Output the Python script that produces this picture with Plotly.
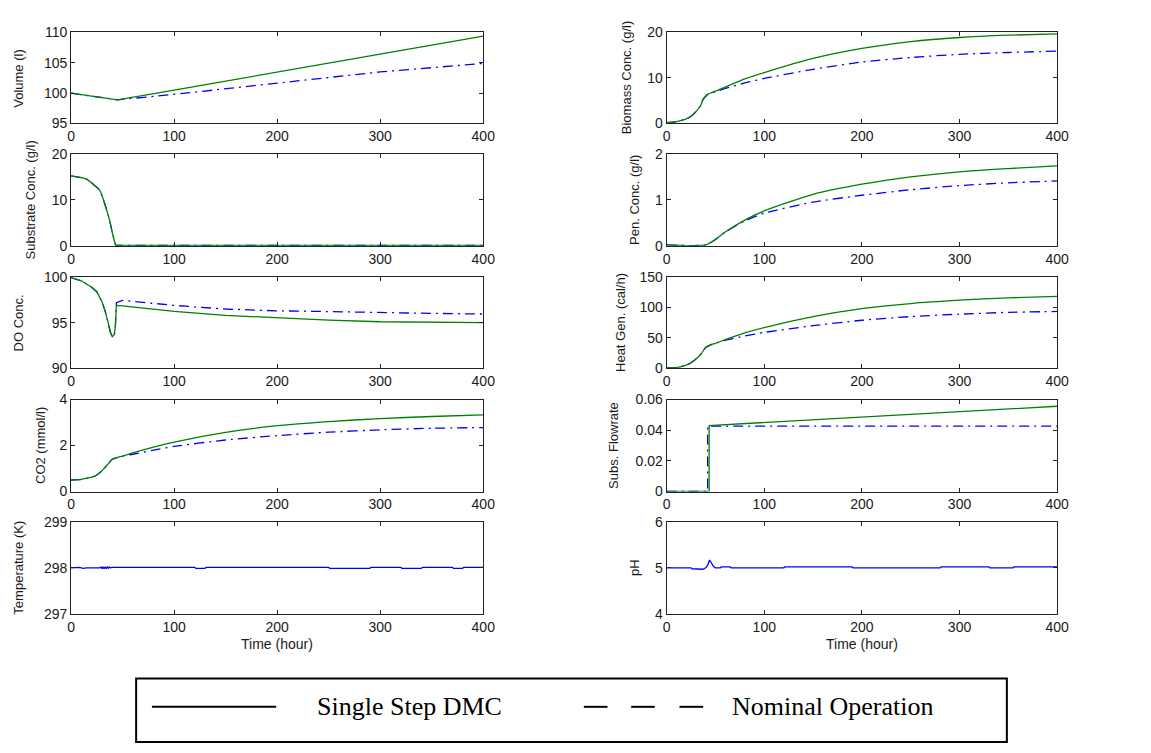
import plotly.graph_objects as go

W, H = 1151, 753

# ---- process readings (time in hours) ----
t_volume = [0, 45, 100, 200, 300, 400]
volume_dmc = [100.0, 98.9, 100.5, 103.5, 106.5, 109.4]
volume_nom = [100.0, 98.9, 99.8, 101.7, 103.5, 104.9]

t_bio = [0, 10, 20, 25, 30, 35, 37, 40, 42, 45, 50, 60, 80, 100, 150, 200, 250, 300, 350, 400]
bio_dmc = [0.2, 0.4, 1.0, 1.6, 2.6, 4.0, 5.2, 6.0, 6.4, 6.7, 7.1, 8.0, 9.8, 11.2, 14.3, 16.5, 18.0, 18.9, 19.4, 19.7]
bio_nom = [0.2, 0.4, 1.0, 1.6, 2.6, 4.0, 5.2, 6.0, 6.4, 6.7, 7.0, 7.7, 8.9, 9.9, 11.9, 13.5, 14.5, 15.2, 15.6, 15.9]

t_sub = [0, 15, 23, 28, 31, 36, 38, 40, 43.5, 45, 100, 200, 300, 400]
sub_dmc = [15.2, 14.5, 13.1, 12.0, 10.3, 6.7, 5.0, 2.9, 0.15, 0.1, 0.1, 0.1, 0.1, 0.1]
sub_nom = [15.2, 14.5, 13.1, 12.0, 10.3, 6.7, 5.0, 2.9, 0.15, 0.1, 0.1, 0.1, 0.1, 0.1]

t_pen = [0, 40, 50, 60, 80, 100, 150, 200, 250, 300, 350, 400]
pen_dmc = [0.02, 0.02, 0.14, 0.30, 0.56, 0.76, 1.12, 1.34, 1.50, 1.61, 1.68, 1.74]
pen_nom = [0.02, 0.02, 0.14, 0.30, 0.54, 0.71, 0.95, 1.10, 1.22, 1.31, 1.37, 1.41]

t_do = [0, 10, 20, 25, 30, 33, 36, 38, 40, 42, 43, 44, 50, 100, 150, 200, 250, 300, 350, 400]
do_dmc = [99.95, 99.6, 98.9, 98.4, 97.3, 96.3, 95.0, 94.0, 93.45, 93.7, 94.6, 96.9, 96.85, 96.25, 95.8, 95.5, 95.28, 95.1, 95.02, 95.0]
do_nom = [99.95, 99.6, 98.9, 98.4, 97.3, 96.3, 95.0, 94.0, 93.45, 93.7, 94.6, 97.2, 97.45, 96.9, 96.5, 96.3, 96.22, 96.08, 96.02, 95.95]

t_heat = [0, 10, 20, 25, 30, 35, 40, 45, 50, 60, 80, 100, 150, 200, 250, 300, 350, 400]
heat_dmc = [0.5, 1.0, 5.0, 9.0, 15.0, 23.0, 34.0, 38.5, 41.0, 47.0, 58.0, 67.0, 85.0, 98.0, 106.5, 112.0, 116.0, 118.5]
heat_nom = [0.5, 1.0, 5.0, 9.0, 15.0, 23.0, 34.0, 38.5, 41.0, 46.0, 53.0, 59.0, 70.0, 79.0, 85.0, 89.0, 92.0, 93.5]

t_co2 = [0, 10, 20, 25, 30, 35, 40, 45, 50, 60, 80, 100, 150, 200, 250, 300, 350, 400]
co2_dmc = [0.5, 0.53, 0.62, 0.72, 0.90, 1.15, 1.40, 1.48, 1.54, 1.68, 1.93, 2.15, 2.57, 2.86, 3.04, 3.17, 3.26, 3.33]
co2_nom = [0.5, 0.53, 0.62, 0.72, 0.90, 1.15, 1.40, 1.48, 1.54, 1.62, 1.80, 1.96, 2.24, 2.43, 2.58, 2.68, 2.75, 2.78]

t_flow_dmc = [0, 43.5, 43.5, 100, 200, 300, 400]
flow_dmc = [0.0, 0.0, 0.0430, 0.0450, 0.0485, 0.0520, 0.0556]
t_flow_nom = [0, 42, 42, 400]
flow_nom = [0.0, 0.0, 0.0427, 0.0427]

t_temp = [0, 5, 8, 12, 15, 20, 25, 28, 29, 30, 31, 32, 33, 34, 35, 36, 37, 38, 40,
          120, 121, 130, 131, 250, 251, 290, 291, 320, 321, 340, 341, 370, 371, 380, 381, 400]
temp = [298.0, 298.0, 298.01, 297.99, 298.0, 298.0, 297.99, 298.0, 298.02, 297.98, 298.02, 297.98, 298.02,
        297.98, 298.02, 297.99, 298.02, 298.0, 298.01,
        298.01, 297.99, 297.99, 298.01, 298.01, 297.99, 297.99, 298.01, 298.01, 297.99, 297.99, 298.01,
        298.01, 297.99, 297.99, 298.01, 298.01]

t_ph = [0, 25, 26, 35, 37, 40, 42, 44, 46, 48, 50, 55, 56, 65, 66, 120, 121, 190, 191, 280, 281, 330, 331, 355, 356, 400]
ph = [5.0, 5.0, 4.98, 4.98, 4.97, 5.0, 5.06, 5.17, 5.10, 5.03, 5.0, 5.0, 5.02, 5.02, 5.0, 5.0, 5.02,
      5.02, 5.0, 5.0, 5.02, 5.02, 5.0, 5.0, 5.02, 5.02]

x_ticks = [0, 100, 200, 300, 400]

GREEN = "#008000"
BLUE = "#0000FF"

# panel list: (row, col, y label, y range, y ticks, y tick text, [(t, y, kind), ...], line shape)
panels = [
    (0, 0, "Volume (l)", [95, 110], [95, 100, 105, 110], None,
     [(t_volume, volume_nom, "nom"), (t_volume, volume_dmc, "dmc")], "linear"),
    (0, 1, "Biomass Conc. (g/l)", [0, 20], [0, 10, 20], None,
     [(t_bio, bio_nom, "nom"), (t_bio, bio_dmc, "dmc")], "spline"),
    (1, 0, "Substrate Conc. (g/l)", [0, 20], [0, 10, 20], None,
     [(t_sub, sub_nom, "nom"), (t_sub, sub_dmc, "dmc")], "spline"),
    (1, 1, "Pen. Conc. (g/l)", [0, 2], [0, 1, 2], None,
     [(t_pen, pen_nom, "nom"), (t_pen, pen_dmc, "dmc")], "spline"),
    (2, 0, "DO Conc.", [90, 100], [90, 95, 100], None,
     [(t_do, do_nom, "nom"), (t_do, do_dmc, "dmc")], "linear"),
    (2, 1, "Heat Gen. (cal/h)", [0, 150], [0, 50, 100, 150], None,
     [(t_heat, heat_nom, "nom"), (t_heat, heat_dmc, "dmc")], "spline"),
    (3, 0, "CO2 (mmol/l)", [0, 4], [0, 2, 4], None,
     [(t_co2, co2_nom, "nom"), (t_co2, co2_dmc, "dmc")], "spline"),
    (3, 1, "Subs. Flowrate", [0, 0.06], [0, 0.02, 0.04, 0.06], ["0", "0.02", "0.04", "0.06"],
     [(t_flow_nom, flow_nom, "nom"), (t_flow_dmc, flow_dmc, "dmc")], "linear"),
    (4, 0, "Temperature (K)", [297, 299], [297, 298, 299], None,
     [(t_temp, temp, "ctl")], "linear"),
    (4, 1, "pH", [4, 6], [4, 5, 6], None,
     [(t_ph, ph, "ctl")], "linear"),
]

# pixel geometry of the grid
col_x = [(68, 486), (672, 1068)]
row_y = [(25, 118), (149, 243), (275, 368), (400, 494), (525, 619)]
label_x = {"Volume (l)": 15, "Substrate Conc. (g/l)": 27, "DO Conc.": 15, "CO2 (mmol/l)": 37,
           "Temperature (K)": 15, "Biomass Conc. (g/l)": 632, "Pen. Conc. (g/l)": 640,
           "Heat Gen. (cal/h)": 625, "Subs. Flowrate": 618, "pH": 640}

def px(x):
    return x / W

def py(y):
    return 1 - y / H

fig = go.Figure()
annotations = []
tick_font = dict(family="Liberation Sans, Arial, sans-serif", size=14, color="#1a1a1a")

for i, (r, c, ylab, yr, yt, ytt, series, shape) in enumerate(panels):
    n = i + 1
    xa = "x" if n == 1 else f"x{n}"
    ya = "y" if n == 1 else f"y{n}"
    for t, v, kind in series:
        if kind == "dmc":
            line = dict(color=GREEN, width=1.3)
        elif kind == "nom":
            line = dict(color=BLUE, width=1.3, dash="10px,5px,2px,5px")
        else:
            line = dict(color=BLUE, width=1.3)
        if shape == "spline":
            line["shape"] = "spline"
            line["smoothing"] = 0.6
        fig.add_trace(go.Scatter(x=t, y=v, mode="lines", line=line, xaxis=xa, yaxis=ya,
                                 showlegend=False, hoverinfo="skip"))
    x0, x1 = col_x[c]
    y0, y1 = row_y[r]
    axis_common = dict(showgrid=False, zeroline=False, showline=True, linecolor="#222",
                       linewidth=1, mirror="allticks", ticks="inside", ticklen=4,
                       tickcolor="#222", tickfont=tick_font, fixedrange=True)
    fig.layout[f"xaxis{'' if n == 1 else n}"] = dict(
        domain=[px(x0), px(x1)], anchor=ya, range=[0, 400], tickvals=x_ticks, **axis_common)
    yaxis = dict(domain=[py(y1), py(y0)], anchor=xa, range=yr, tickvals=yt, **axis_common)
    if ytt is not None:
        yaxis["ticktext"] = ytt
    fig.layout[f"yaxis{'' if n == 1 else n}"] = yaxis
    annotations.append(dict(text=ylab, x=px(label_x[ylab]), y=py((y0 + y1) / 2), xref="paper",
                            yref="paper", textangle=-90, showarrow=False, xanchor="center",
                            yanchor="middle",
                            font=dict(family="Liberation Sans, Arial, sans-serif", size=13,
                                      color="#1a1a1a")))

for c in range(2):
    x0, x1 = col_x[c]
    annotations.append(dict(text="Time (hour)", x=px((x0 + x1) / 2), y=py(650), xref="paper",
                            yref="paper", showarrow=False, xanchor="center", yanchor="middle",
                            font=dict(family="Liberation Sans, Arial, sans-serif", size=14,
                                      color="#1a1a1a")))

# legend box below the grid
legend_y = 714
shapes = [
    dict(type="rect", xref="paper", yref="paper", x0=px(134), x1=px(1017), y0=py(750), y1=py(685),
         line=dict(color="black", width=2), fillcolor="rgba(0,0,0,0)"),
    dict(type="line", xref="paper", yref="paper", x0=px(150), x1=px(276), y0=py(legend_y),
         y1=py(legend_y), line=dict(color="black", width=2)),
]
for d0 in (588, 636, 685):
    shapes.append(dict(type="line", xref="paper", yref="paper", x0=px(d0), x1=px(d0 + 24),
                       y0=py(legend_y), y1=py(legend_y), line=dict(color="black", width=2)))
annotations.append(dict(text="Single Step DMC", x=px(315), y=py(legend_y), xref="paper",
                        yref="paper", showarrow=False, xanchor="left", yanchor="middle",
                        font=dict(family="Liberation Serif, Times New Roman, serif", size=26,
                                  color="black")))
annotations.append(dict(text="Nominal Operation", x=px(736), y=py(legend_y), xref="paper",
                        yref="paper", showarrow=False, xanchor="left", yanchor="middle",
                        font=dict(family="Liberation Serif, Times New Roman, serif", size=26,
                                  color="black")))

fig.update_layout(width=W, height=H, margin=dict(l=0, r=0, t=0, b=0),
                  paper_bgcolor="white", plot_bgcolor="white",
                  annotations=annotations, shapes=shapes, showlegend=False)

fig.write_html("out.html", config={"displayModeBar": False})
